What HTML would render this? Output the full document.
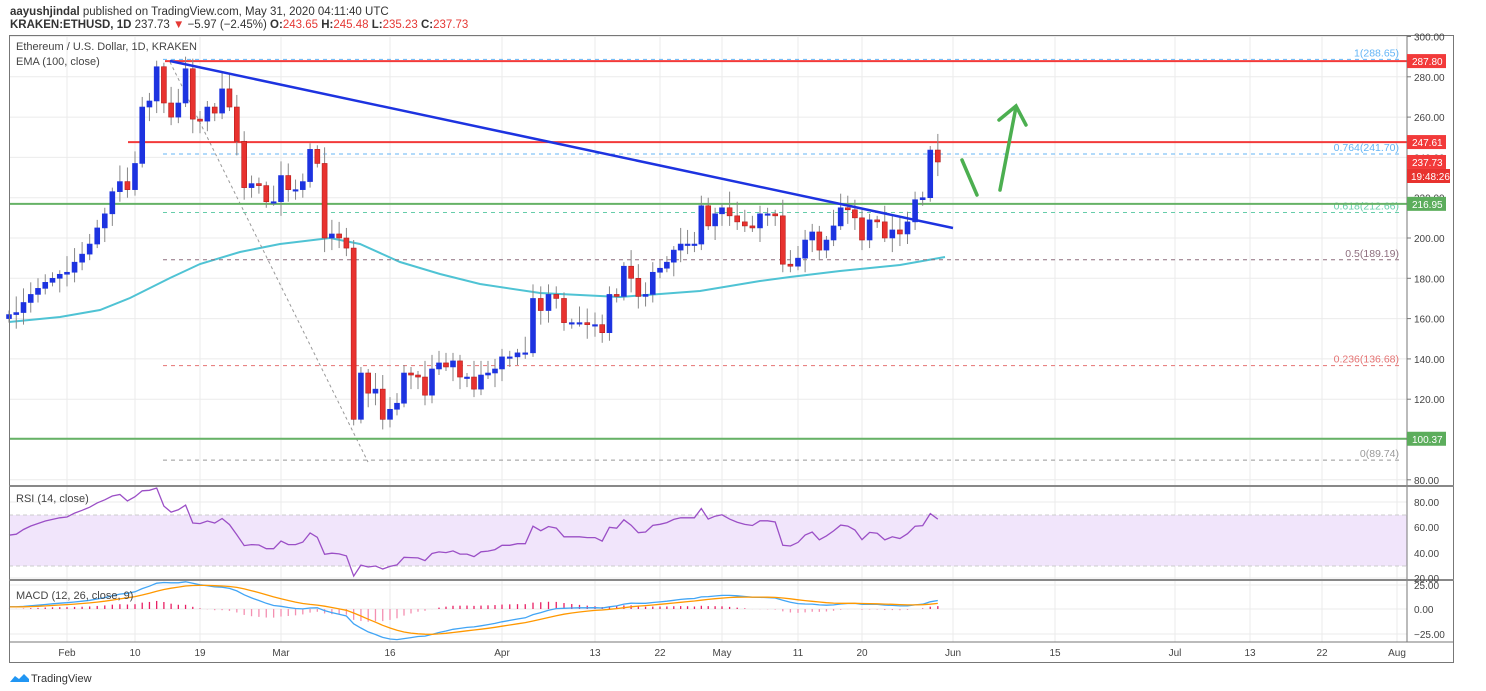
<!DOCTYPE html>
<html><head><meta charset="utf-8"><style>
body{margin:0;background:#fff;width:1486px;height:686px;overflow:hidden;font-family:"Liberation Sans",sans-serif}
svg text{font-family:"Liberation Sans",sans-serif}
</style></head><body>
<svg id="s" width="1486" height="686" xmlns="http://www.w3.org/2000/svg">
<rect width="1486" height="686" fill="#fff"/>
<text x="10" y="15" font-size="11.5" fill="#333"><tspan font-weight="bold">aayushjindal</tspan> published on TradingView.com, May 31, 2020 04:11:40 UTC</text>
<text x="10" y="28" font-size="11.5" fill="#333"><tspan font-weight="bold">KRAKEN:ETHUSD, 1D</tspan> 237.73 <tspan fill="#e53935">▼</tspan> −5.97 (−2.45%) <tspan font-weight="bold">O:</tspan><tspan fill="#e53935">243.65</tspan> <tspan font-weight="bold">H:</tspan><tspan fill="#e53935">245.48</tspan> <tspan font-weight="bold">L:</tspan><tspan fill="#e53935">235.23</tspan> <tspan font-weight="bold">C:</tspan><tspan fill="#e53935">237.73</tspan></text>
<g id="g"></g>
</svg>
<script>
const S=document.getElementById('g');let h='';
const P=p=>238+(200-p)*2.015;
const anchors=[[-8,9],[0,67],[9,135],[18,200],[29,281],[44,390],[60,502],[72,595],[81,660],[90,722],[100,798],[109,862],[121,953],[135,1055],[151,1175],[163,1250],[172,1322],[182,1397]];
function X(d){for(let i=0;i<anchors.length-1;i++){const[a,b]=anchors[i],[c,e]=anchors[i+1];if(d<=c)return b+(d-a)*(e-b)/(c-a);}return 1400;}
// grid
const vx=[67,135,200,281,390,502,595,660,722,798,862,953,1055,1175,1250,1322,1397];
vx.forEach(x=>h+=`<line x1="${x}" y1="35" x2="${x}" y2="642" stroke="#ebebeb"/>`);
for(let p=80;p<=300;p+=20){h+=`<line x1="9" y1="${P(p)}" x2="1407" y2="${P(p)}" stroke="#ebebeb"/>`;}
[502,527,553,578].forEach(y=>h+=`<line x1="9" y1="${y}" x2="1407" y2="${y}" stroke="#ebebeb"/>`);
[585,609,634].forEach(y=>h+=`<line x1="9" y1="${y}" x2="1407" y2="${y}" stroke="#ebebeb"/>`);
// data closes from Jan 24 (d=-8)
const C=[162,163,168,172,175,178,180,182,183,188,192,197,205,212,223,228,224,237,265,268,285,267,260,267,284,259,258,265,262,274,265,248,225,227,226,218,218,231,224,224,228,244,237,200,202,200,195,110,133,123,125,110,115,118,133,132,131,122,135,138,136,139,131,131,125,132,133,135,141,141,143,143,170,164,172,170,158,158,158,157,157,153,172,171,186,180,171,172,183,185,188,194,197,197,197,216,206,212,215,211,208,206,205,212,212,211,187,186,190,199,203,194,199,206,215,214,210,199,209,208,200,204,202,208,219,220,243.65,237.73];
const pre=[];for(let i=0;i<40;i++)pre.push(150+i*0.3+((i*7)%5-2)*2);
const all=pre.concat(C);
// EMA100 line (hand drawn)
const ema=[[9,322],[60,317],[100,310],[130,298],[170,278],[200,264],[240,252],[280,244],[330,238],[360,244],[400,262],[440,274],[480,284],[540,293],[620,297],[700,291],[760,281],[790,277],[840,271],[900,265],[945,257]];
h+=`<polyline points="${ema.map(p=>p.join(',')).join(' ')}" fill="none" stroke="#4fc3d4" stroke-width="2"/>`;
// fib lines
const fib=[[288.65,'#64b5f6','1(288.65)'],[241.70,'#64b5f6','0.764(241.70)'],[212.66,'#66cdaa','0.618(212.66)'],[189.19,'#8d6e7e','0.5(189.19)'],[136.68,'#e57373','0.236(136.68)'],[89.74,'#999','0(89.74)']];
fib.forEach(f=>{const y=P(f[0]);h+=`<line x1="163" y1="${y}" x2="1400" y2="${y}" stroke="${f[1]}" stroke-dasharray="4,4"/><text x="1399" y="${y-3}" text-anchor="end" font-size="10.5" fill="${f[1]}">${f[2]}</text>`;});
h+=`<line x1="170" y1="62" x2="368" y2="462" stroke="#999" stroke-dasharray="3,3"/>`;
// horizontal lines
h+=`<line x1="165" y1="${P(287.8)}" x2="1407" y2="${P(287.8)}" stroke="#f23a3a" stroke-width="2"/>`;
h+=`<line x1="128" y1="${P(247.61)}" x2="1407" y2="${P(247.61)}" stroke="#f23a3a" stroke-width="2"/>`;
h+=`<line x1="9" y1="${P(216.95)}" x2="1407" y2="${P(216.95)}" stroke="#66b266" stroke-width="2"/>`;
h+=`<line x1="9" y1="${P(100.37)}" x2="1407" y2="${P(100.37)}" stroke="#66b266" stroke-width="2"/>`;
// candles
for(let i=0;i<C.length;i++){const d=i-8,x=X(d);const o=i?C[i-1]:160,c=C[i];const up=c>=o;const col=up?'#1d33e0':'#e8322f';
const hi=Math.max(o,c)+2+((i*13)%7),lo=Math.min(o,c)-2-((i*11)%6);
h+=`<line x1="${x}" y1="${P(hi)}" x2="${x}" y2="${P(lo)}" stroke="#888" stroke-width="1"/>`;
const yt=P(Math.max(o,c)),yb=P(Math.min(o,c));h+=`<rect x="${x-2.5}" y="${yt}" width="5" height="${Math.max(1.5,yb-yt)}" fill="${col}" stroke="${up?'#1d33e0':'#b71c1c'}" stroke-width="0.6"/>`;}
// trend line
h+=`<line x1="170" y1="61" x2="953" y2="228" stroke="#1d33e0" stroke-width="2.5"/>`;
// arrows
h+=`<g stroke="#4caf50" stroke-width="3.5" fill="none" stroke-linecap="round"><line x1="962" y1="160" x2="977" y2="195"/><line x1="1000" y1="190" x2="1016" y2="107"/><polyline points="999,120 1016,106 1026,125"/></g>`;
// RSI
h+=`<rect x="9" y="515" width="1398" height="51" fill="#f1e5fb"/>`;
h+=`<line x1="9" y1="515" x2="1407" y2="515" stroke="#ccc" stroke-dasharray="4,3"/><line x1="9" y1="566" x2="1407" y2="566" stroke="#ccc" stroke-dasharray="4,3"/>`;
let ag=0,al=0;const rsi=[];for(let i=1;i<all.length;i++){const ch=all[i]-all[i-1];const g=Math.max(ch,0),l=Math.max(-ch,0);if(i<=14){ag+=g/14;al+=l/14;}else{ag=(ag*13+g)/14;al=(al*13+l)/14;}rsi.push(al==0?100:100-100/(1+ag/al));}
const R=v=>578-(v-20)*25.5/20;let rp=[];for(let i=0;i<C.length;i++){rp.push(X(i-8).toFixed(1)+','+R(rsi[i+39]).toFixed(1));}
h+=`<polyline points="${rp.join(' ')}" fill="none" stroke="#9b4fc6" stroke-width="1.3"/>`;
// MACD
function emaArr(a,n){const k=2/(n+1);let e=a[0];return a.map(v=>e=v*k+e*(1-k));}
const e12=emaArr(all,12),e26=emaArr(all,26);const m=e12.map((v,i)=>v-e26[i]);const sg=emaArr(m,9);
const M=v=>609-v*0.98;let mp=[],sp=[];
for(let i=0;i<C.length;i++){const j=i+40,x=X(i-8);mp.push(x.toFixed(1)+','+M(m[j]).toFixed(1));sp.push(x.toFixed(1)+','+M(sg[j]).toFixed(1));const hv=m[j]-sg[j];h+=`<line x1="${x}" y1="609" x2="${x}" y2="${M(hv)}" stroke="${hv>=0?'#e91e63':'#f48fb1'}" stroke-width="1.3"/>`;}
h+=`<polyline points="${mp.join(' ')}" fill="none" stroke="#42a5f5" stroke-width="1.3"/><polyline points="${sp.join(' ')}" fill="none" stroke="#ff9800" stroke-width="1.3"/>`;
// frame
h+=`<rect x="9.5" y="35.5" width="1444" height="627" fill="none" stroke="#777"/>`;
h+=`<line x1="1407" y1="35" x2="1407" y2="642" stroke="#777"/>`;
h+=`<line x1="9" y1="486" x2="1454" y2="486" stroke="#888" stroke-width="2"/><line x1="9" y1="580" x2="1454" y2="580" stroke="#888" stroke-width="2"/><line x1="9" y1="642" x2="1454" y2="642" stroke="#777"/>`;
// axis labels
for(let p=80;p<=300;p+=20){const y=P(p);h+=`<line x1="1407" y1="${y}" x2="1411" y2="${y}" stroke="#777"/><text x="1414" y="${y+4}" font-size="10" fill="#444">${p.toFixed(2)}</text>`;}
[[502,'80.00'],[527,'60.00'],[553,'40.00'],[578,'20.00'],[585,'25.00'],[609,'0.00'],[634,'−25.00']].forEach(a=>h+=`<text x="1414" y="${a[0]+4}" font-size="10" fill="#444">${a[1]}</text>`);
const tl=['Feb','10','19','Mar','16','Apr','13','22','May','11','20','Jun','15','Jul','13','22','Aug'];
tl.forEach((t,i)=>h+=`<text x="${vx[i]}" y="656" font-size="10" fill="#444" text-anchor="middle">${t}</text>`);
// price boxes
[[287.8,'287.80','#f23a3a'],[247.61,'247.61','#f23a3a'],[237.73,'237.73','#f23a3a'],[216.95,'216.95','#5cad5c'],[100.37,'100.37','#5cad5c']].forEach(b=>{const y=P(b[0]);h+=`<rect x="1407" y="${y-7}" width="39" height="14" fill="${b[2]}"/><text x="1412" y="${y+4}" font-size="10" fill="#fff">${b[1]}</text>`;});
h+=`<rect x="1407" y="169" width="43" height="14" fill="#e8322f"/><text x="1411" y="180" font-size="10" fill="#fff">19:48:26</text>`;
// pane titles
h+=`<text x="16" y="50" font-size="11" fill="#444">Ethereum / U.S. Dollar, 1D, KRAKEN</text><text x="16" y="65" font-size="11" fill="#444">EMA (100, close)</text>`;
h+=`<text x="16" y="502" font-size="11" fill="#444">RSI (14, close)</text><text x="16" y="599" font-size="11" fill="#444">MACD (12, 26, close, 9)</text>`;
h+=`<path d="M10 682 l5-6 l4 3 l5-5 l5 5 v3 z" fill="#2196f3"/><text x="31" y="682" font-size="11" fill="#333">TradingView</text>`;
S.innerHTML=h;
</script>
</body></html>
